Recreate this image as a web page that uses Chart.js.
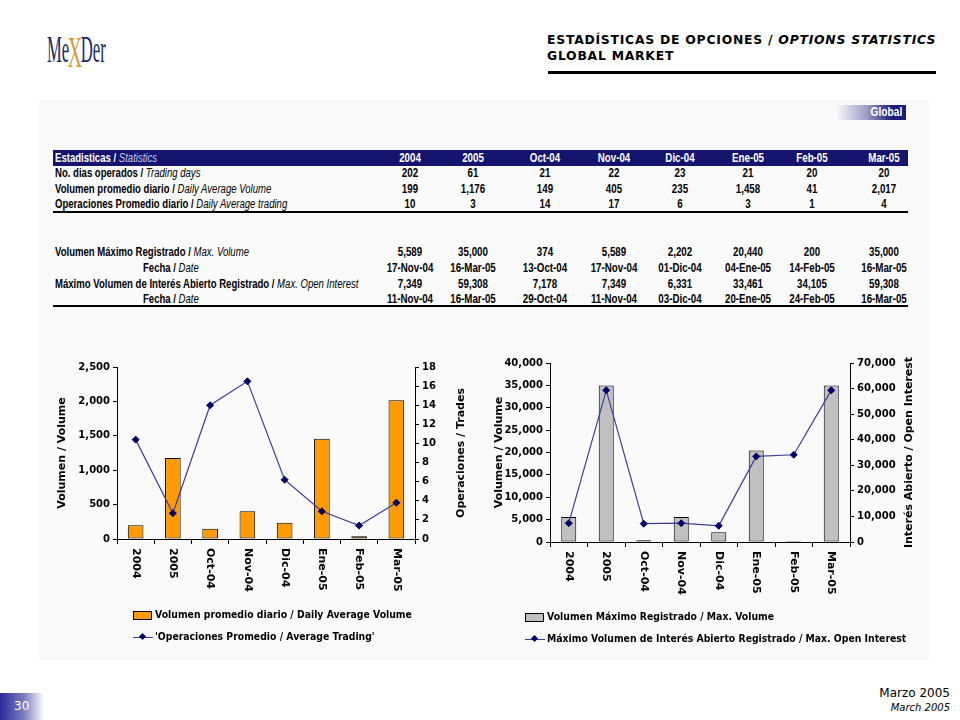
<!DOCTYPE html>
<html>
<head>
<meta charset="utf-8">
<script src="https://cdn.jsdelivr.net/npm/chart.js@4.4.1/dist/chart.umd.min.js"></script>
<style>
  html,body{margin:0;padding:0;background:#fff;}
  body{width:960px;height:720px;position:relative;overflow:hidden;font-family:"DejaVu Sans",Verdana,sans-serif;color:#000;}
  .abs{position:absolute;}
  #logo{left:47px;top:22px;font-family:"Liberation Serif",serif;font-size:37px;color:#1b2a6b;transform:scaleX(.45);transform-origin:left top;white-space:nowrap;}
  #logo .x{color:#d99a3a;font-size:44px;position:relative;top:5px;margin:0 -3px;font-weight:normal;}
  #title{left:547px;top:32px;font-size:12.4px;font-weight:bold;line-height:16px;letter-spacing:.75px;white-space:nowrap;}
  #rule{left:548px;top:71px;width:388px;height:3px;background:#000;}
  #panel{left:38px;top:100px;width:892px;height:560px;background:#fafafa;}
  #tab{left:836px;top:105px;width:70px;height:15px;background:linear-gradient(to right,rgba(255,255,255,0),#9a9ac4 45%,#1c1c78 80%);}
  #tab span{position:absolute;right:4px;top:0;color:#fff;font:bold 12px/15px "Liberation Sans",sans-serif;transform:scaleX(.85);transform-origin:right center;}
  .tbl{font-family:"Liberation Sans Narrow","Liberation Sans",sans-serif;font-weight:bold;font-size:12.5px;white-space:nowrap;}
  .tbl i{font-weight:normal;}
  .lab{transform:scaleX(.765);transform-origin:left center;}
  .cell{position:absolute;width:90px;text-align:center;transform:scaleX(.78);transform-origin:center center;}
  #hdr{left:53px;top:150px;width:855px;height:16px;background:#14146e;}
  .line2{position:absolute;left:53px;width:855px;height:2px;background:#000;}
  .legend{font-size:10px;font-weight:bold;white-space:nowrap;}
  .legend .row{position:absolute;left:0;height:14px;line-height:14px;}
  .legend .box{position:absolute;left:0;top:3px;width:17px;height:7px;border:1px solid #000;}
  .legend .ln{position:absolute;left:0;top:7px;width:20px;height:1px;background:#3c3ca0;}
  .legend .dm{position:absolute;left:7px;top:4px;width:5px;height:5px;background:#000066;transform:rotate(45deg);}
  .legend .tx{position:absolute;left:22px;top:0;transform:scaleX(.93);transform-origin:left center;}
  #pg{left:0;top:693px;width:44px;height:27px;background:linear-gradient(to right,#2a2a96,#8080c0 55%,rgba(255,255,255,0));color:#fff;font-size:12px;line-height:27px;padding-left:14px;box-sizing:border-box;}
  #date{right:10px;top:686px;text-align:right;font-size:12px;line-height:14px;}
  #date i{font-size:10px;}
</style>
</head>
<body>
<div id="panel" class="abs"></div>
<div id="logo" class="abs">Me<span class="x">X</span>Der</div>
<div id="title" class="abs">ESTADÍSTICAS DE OPCIONES / <i>OPTIONS STATISTICS</i><br>GLOBAL MARKET</div>
<div id="rule" class="abs"></div>
<div id="tab" class="abs"><span>Global</span></div>
<div id="hdr" class="abs"></div>
<div id="table" class="abs tbl" style="left:0;top:0;"></div>

<div class="abs" style="left:56px;top:355px;width:424px;height:260px;"><canvas id="c1"></canvas></div>
<div class="abs" style="left:493px;top:350px;width:447px;height:260px;"><canvas id="c2"></canvas></div>

<div class="abs legend" style="left:133px;top:608px;">
  <div class="row" style="top:0"><div class="box" style="background:#ff9a00"></div><div class="tx">Volumen promedio diario / Daily Average Volume</div></div>
  <div class="row" style="top:22px"><div class="ln"></div><div class="dm"></div><div class="tx">'Operaciones Promedio / Average Trading'</div></div>
</div>
<div class="abs legend" style="left:525px;top:610px;">
  <div class="row" style="top:0"><div class="box" style="background:#c0c0c0"></div><div class="tx">Volumen Máximo Registrado / Max. Volume</div></div>
  <div class="row" style="top:22px"><div class="ln"></div><div class="dm"></div><div class="tx">Máximo Volumen de Interés Abierto Registrado / Max. Open Interest</div></div>
</div>

<div id="pg" class="abs">30</div>
<div id="date" class="abs">Marzo 2005<br><i>March 2005</i></div>

<script>
const categories = ['2004','2005','Oct-04','Nov-04','Dic-04','Ene-05','Feb-05','Mar-05'];
const tradingDays = [202,61,21,22,23,21,20,20];
const avgVolume = [199,1176,149,405,235,1458,41,2017];
const avgTradesTable = [10,3,14,17,6,3,1,4];
const avgTrades = [10.4,2.7,14.0,16.5,6.2,2.9,1.4,3.8];
const maxVolume = [5589,35000,374,5589,2202,20440,200,35000];
const maxVolumeDate = ['17-Nov-04','16-Mar-05','13-Oct-04','17-Nov-04','01-Dic-04','04-Ene-05','14-Feb-05','16-Mar-05'];
const maxOpenInterest = [7349,59308,7178,7349,6331,33461,34105,59308];
const maxOIDate = ['11-Nov-04','16-Mar-05','29-Oct-04','11-Nov-04','03-Dic-04','20-Ene-05','24-Feb-05','16-Mar-05'];

const fmt = v => Number(v).toLocaleString('en-US');
const $ = s => document.querySelector(s);

// ---- table ----
function buildTable(){
  const el = $('#table');
  const cx = [410,473,545,614,680,748,812,884];
  const rows = [
    {y:150, label:'Estadisticas / <i style="color:#c8c8ff">Statistics</i>', vals:categories, color:'#fff'},
    {y:165, label:'No. dias operados / <i>Trading days</i>', vals:tradingDays.map(fmt)},
    {y:181, label:'Volumen promedio diario / <i>Daily Average Volume</i>', vals:avgVolume.map(fmt)},
    {y:196, label:'Operaciones Promedio diario / <i>Daily Average trading</i>', vals:avgTradesTable.map(fmt)},
    {y:244, label:'Volumen Máximo Registrado / <i>Max. Volume</i>', vals:maxVolume.map(fmt)},
    {y:260, label:'Fecha / <i>Date</i>', x:143, vals:maxVolumeDate},
    {y:276, label:'Máximo Volumen de Interés Abierto Registrado / <i>Max. Open Interest</i>', vals:maxOpenInterest.map(fmt)},
    {y:291, label:'Fecha / <i>Date</i>', x:143, vals:maxOIDate},
  ];
  let html = '';
  rows.forEach(r=>{
    const st = `top:${r.y}px;line-height:16px;${r.color?'color:'+r.color+';':''}`;
    html += `<div class="abs lab" style="left:${r.x||55}px;${st}">${r.label}</div>`;
    r.vals.forEach((v,i)=>{ html += `<div class="cell" style="left:${cx[i]-45}px;${st}">${v}</div>`; });
  });
  html += `<div class="line2" style="top:211px"></div><div class="line2" style="top:305px"></div>`;
  el.innerHTML = html;
}
buildTable();

// ---- charts ----
const tickFont = {family:'DejaVu Sans', size:10, weight:'bold'};
const titleFont = {family:'DejaVu Sans', size:11, weight:'bold'};

const vertLabels = {
  id:'vertLabels',
  afterDraw(chart, args, opts){
    const ctx = chart.ctx, xs = chart.scales.x;
    ctx.save();
    ctx.fillStyle = '#000';
    ctx.font = 'bold 11px "DejaVu Sans"';
    ctx.textAlign = 'left'; ctx.textBaseline = 'middle';
    chart.data.labels.forEach((lab,i)=>{
      const x = xs.getPixelForTick(i);
      ctx.save(); ctx.translate(x, xs.top + 9); ctx.rotate(Math.PI/2);
      ctx.fillText(lab, 0, 0); ctx.restore();
    });
    // right axis title, reading bottom to top
    const ys = chart.scales.y1, ca = chart.chartArea;
    ctx.textAlign = 'center';
    ctx.save(); ctx.translate(ys.left + opts.titleOffset, (ca.top+ca.bottom)/2); ctx.rotate(-Math.PI/2);
    ctx.fillText(opts.title, 0, 0); ctx.restore();
    ctx.restore();
  }
};

function axisGrid(len){ return {display:true, drawOnChartArea:false, drawTicks:true, tickLength:len, color:'#000', lineWidth:1}; }

function makeChart(id, cfg){
  return new Chart($(id), {
    type:'bar',
    data:{
      labels:categories,
      datasets:[
        {type:'line', label:cfg.lineLabel, data:cfg.line, yAxisID:'y1', order:0,
         borderColor:'#3c3ca0', borderWidth:1.2, tension:0,
         pointStyle:'rectRot', pointRadius:3.5, pointBackgroundColor:'#000066', pointBorderColor:'#000066', pointBorderWidth:1},
        {type:'bar', label:cfg.barLabel, data:cfg.bars, yAxisID:'y', order:1,
         backgroundColor:cfg.barColor, borderColor:'#000', borderWidth:1, borderSkipped:false,
         barPercentage:cfg.barPct, categoryPercentage:1}
      ]
    },
    options:{
      responsive:true, maintainAspectRatio:false, animation:false,
      layout:{padding:{top:cfg.padTop, left:0, right:0, bottom:0}},
      plugins:{legend:{display:false}, tooltip:{enabled:false},
        vertLabels:{title:cfg.rightTitle, titleOffset:cfg.rightTitleOffset}},
      scales:{
        x:{offset:true, grid:{...axisGrid(5), offset:true}, border:{color:'#000', width:1},
           ticks:{display:false}, afterFit:s=>{ s.height = cfg.xHeight; }},
        y:{position:'left', min:0, max:cfg.yMax, grid:axisGrid(4), border:{color:'#000', width:1},
           ticks:{stepSize:cfg.yStep, color:'#000', font:tickFont, padding:3, callback:v=>fmt(v)},
           title:{display:true, text:'Volumen / Volume', color:'#000', font:titleFont, padding:{top:0,bottom:4}},
           afterFit:s=>{ s.width = cfg.yWidth; }},
        y1:{position:'right', min:0, max:cfg.y1Max, grid:axisGrid(4), border:{color:'#000', width:1},
           ticks:{stepSize:cfg.y1Step, color:'#000', font:tickFont, padding:3, callback:v=>fmt(v)},
           afterFit:s=>{ s.width = cfg.y1Width; }}
      }
    },
    plugins:[vertLabels]
  });
}

makeChart('#c1', {
  bars:avgVolume, line:avgTrades, barColor:'#ff9a00', barPct:0.42,
  barLabel:'Volumen promedio diario / Daily Average Volume', lineLabel:"'Operaciones Promedio / Average Trading'",
  yMax:2500, yStep:500, y1Max:18, y1Step:2,
  yWidth:61, y1Width:65, xHeight:76, padTop:12,
  rightTitle:'Operaciones / Trades', rightTitleOffset:46
});

makeChart('#c2', {
  bars:maxVolume, line:maxOpenInterest, barColor:'#c0c0c0', barPct:0.4,
  barLabel:'Volumen Máximo Registrado / Max. Volume', lineLabel:'Máximo Volumen de Interés Abierto Registrado / Max. Open Interest',
  yMax:40000, yStep:5000, y1Max:70000, y1Step:10000,
  yWidth:57, y1Width:90, xHeight:68, padTop:13,
  rightTitle:'Interés Abierto / Open Interest', rightTitleOffset:59
});
</script>
</body>
</html>
